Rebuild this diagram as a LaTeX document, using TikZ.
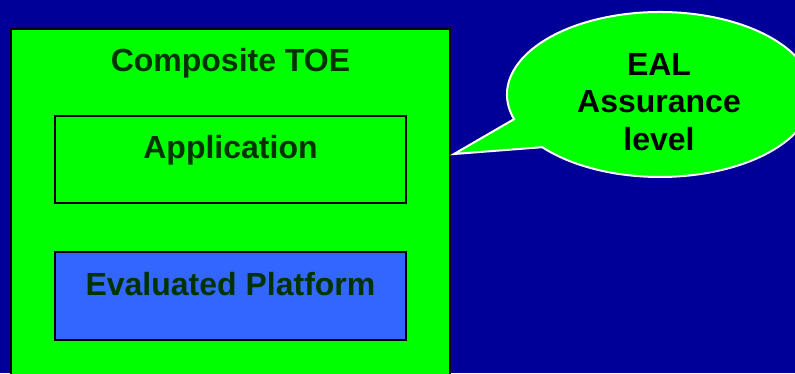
\documentclass[tikz,border=0pt]{standalone}
\usepackage{fontspec}
\setmainfont{Liberation Sans}
\usetikzlibrary{calc}
\definecolor{navy}{HTML}{000099}
\definecolor{limegreen}{HTML}{00FF00}
\definecolor{platblue}{HTML}{3366FF}
\definecolor{darktext}{HTML}{003300}
\tikzset{
  box/.style={draw=black, line width=2pt},
  boxlabel/.style={anchor=base, inner sep=0pt, text=darktext,
    font=\fontsize{32}{38}\selectfont\bfseries},
  bubblelabel/.style={anchor=base, inner sep=0pt, text=black,
    font=\fontsize{32}{38}\selectfont\bfseries},
  bubble/.style={fill=limegreen, draw=white, line width=2pt, line join=miter}
}
\begin{document}
\begin{tikzpicture}[x=1pt, y=1pt]
  \useasboundingbox (0,0) rectangle (795,373);
  \clip (0,0) rectangle (795,373);
  \fill[navy] (0,0) rectangle (795,373);

  % composite TOE frame running off the bottom edge
  \draw[box, fill=limegreen] (11,344) rectangle (450,-10);
  \node[boxlabel] (toe) at (230.5,301) {Composite TOE};

  % inner components
  \draw[box, fill=limegreen] (55,257) rectangle (406,170);
  \node[boxlabel] (app) at (230.5,215) {Application};
  \draw[box, fill=platblue] (55,121) rectangle (406,33);
  \node[boxlabel] (plat) at (230.5,78) {Evaluated Platform};

  % speech bubble pointing at the frame
  \coordinate (tip) at (454,219);
  \coordinate (bc) at (660,278.5);
  \draw[bubble] (tip) -- ($(bc)+(197.4:153 and 82.5)$)
    arc[start angle=197.4, end angle=-140.3, x radius=153, y radius=82.5]
    -- cycle;
  \node[bubblelabel] (eal) at (659,298) {EAL};
  \node[bubblelabel] (assur) at (659,261) {Assurance};
  \node[bubblelabel] (lvl) at (659,223) {level};
\end{tikzpicture}
\end{document}
